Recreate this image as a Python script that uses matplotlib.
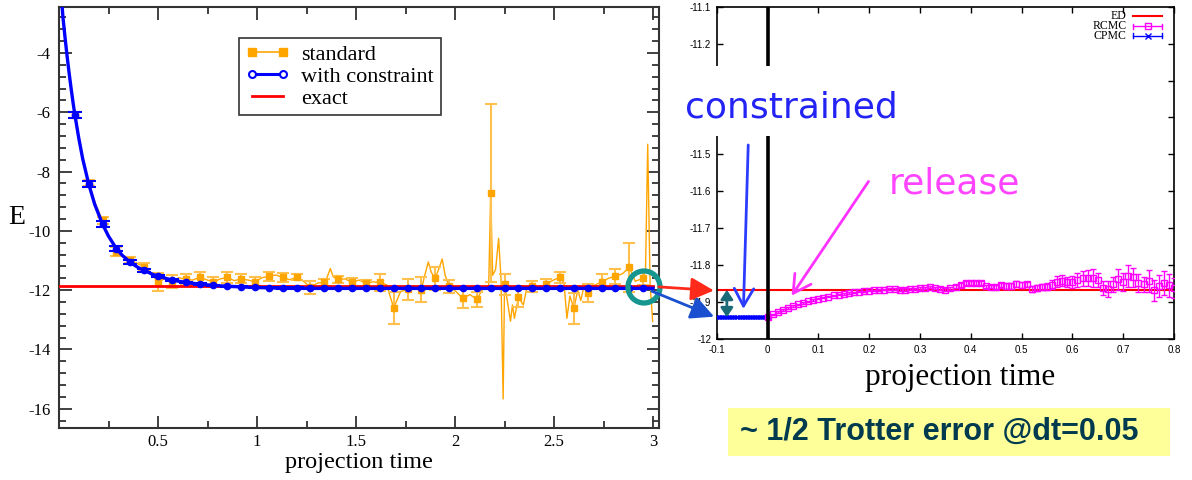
import numpy as np
import matplotlib.pyplot as plt
from matplotlib.patches import Rectangle, Ellipse, FancyArrowPatch
from matplotlib.lines import Line2D

plt.rcParams['font.family'] = 'Liberation Serif'
plt.rcParams['axes.unicode_minus'] = False

W, H = 1192, 480


def fx(px):
    return px / W


def fy(py):
    return 1 - py / H


# ---------------- left panel data ----------------
# marker times (every 0.07 in projection time)
std_t = np.round(np.linspace(0.08, 2.95, 42), 3)
std_e = [-6.10, -8.40, -9.65, -10.70, -10.98, -11.21, -11.72, -11.72, -11.64, -11.57,
         -11.72, -11.57, -11.62, -11.72, -11.53, -11.57, -11.57, -11.91, -11.74, -11.64,
         -11.74, -11.77, -11.74, -12.60, -11.97, -11.99, -11.60, -11.87, -12.28, -12.31,
         -8.73, -11.80, -12.24, -11.87, -11.79, -11.57, -12.61, -12.09, -11.72, -11.53,
         -11.23, -11.60]
std_err = [0.10, 0.10, 0.12, 0.15, 0.10, 0.12, 0.30, 0.22, 0.18, 0.18,
           0.15, 0.18, 0.15, 0.15, 0.15, 0.15, 0.10, 0.22, 0.12, 0.12,
           0.15, 0.12, 0.30, 0.55, 0.35, 0.42, 0.38, 0.22, 0.32, 0.25,
           3.00, 0.35, 0.32, 0.18, 0.16, 0.18, 0.52, 0.30, 0.25, 0.25,
           0.82, 0.22]

# dense "standard" trace
std_line_t = [0.08, 0.115, 0.15, 0.185, 0.22, 0.255, 0.29, 0.325, 0.36, 0.395,
              0.43, 0.465, 0.50, 0.535, 0.57, 0.605, 0.64, 0.675, 0.71, 0.745,
              0.78, 0.815, 0.85, 0.885, 0.92, 0.955, 0.99, 1.025, 1.06, 1.095,
              1.13, 1.165, 1.20, 1.235, 1.27, 1.305, 1.34, 1.355, 1.37, 1.385,
              1.41, 1.445, 1.48, 1.515, 1.55, 1.585, 1.62, 1.655, 1.69, 1.725,
              1.76, 1.795, 1.83, 1.845, 1.865, 1.88, 1.90, 1.92, 1.935, 1.95,
              1.97, 2.005, 2.04, 2.075, 2.11, 2.145, 2.17, 2.18, 2.19, 2.205,
              2.22, 2.232, 2.243, 2.25, 2.265, 2.28, 2.29, 2.30, 2.32, 2.345,
              2.36, 2.39, 2.425, 2.46, 2.50, 2.53, 2.55, 2.565, 2.58, 2.60,
              2.62, 2.635, 2.65, 2.67, 2.70, 2.74, 2.775, 2.81, 2.845, 2.88,
              2.91, 2.95, 2.962, 2.973, 2.985, 2.998]
std_line_e = [-6.10, -7.45, -8.40, -9.10, -9.65, -10.25, -10.70, -10.85, -10.98, -11.10,
              -11.21, -11.45, -11.72, -11.62, -11.72, -11.58, -11.64, -11.66, -11.57, -11.65,
              -11.72, -11.62, -11.57, -11.68, -11.62, -11.66, -11.72, -11.58, -11.53, -11.49,
              -11.57, -11.65, -11.57, -11.70, -11.91, -11.76, -11.74, -11.55, -11.27, -11.55,
              -11.64, -11.62, -11.74, -11.66, -11.77, -11.72, -11.74, -11.82, -12.60, -12.05,
              -11.97, -11.85, -11.99, -11.55, -11.05, -11.40, -11.60, -11.25, -10.95, -11.50,
              -11.87, -12.05, -12.28, -12.15, -12.31, -11.90, -11.85, -8.73, -11.50, -11.30,
              -10.25, -11.60, -15.67, -11.80, -12.40, -13.05, -12.50, -12.95, -12.24, -12.50,
              -12.00, -11.87, -11.95, -11.79, -11.65, -11.57, -11.75, -12.95, -12.20, -12.61,
              -12.00, -12.35, -11.90, -12.09, -11.85, -11.72, -11.60, -11.53, -11.45, -11.23,
              -11.70, -11.60, -11.30, -7.08, -11.80, -13.05]

con_e = [-6.08, -8.42, -9.78, -10.60, -11.06, -11.33, -11.53, -11.66, -11.74, -11.80,
         -11.84, -11.87, -11.89, -11.91, -11.92, -11.93, -11.93, -11.94, -11.94, -11.94,
         -11.94, -11.94, -11.94, -11.94, -11.94, -11.94, -11.94, -11.94, -11.94, -11.94,
         -11.94, -11.94, -11.94, -11.94, -11.94, -11.94, -11.94, -11.94, -11.94, -11.94,
         -11.94, -11.94]
con_err = [0.10, 0.10, 0.10, 0.08, 0.06, 0.05, 0.04, 0.03, 0.03, 0.03,
           0.02, 0.02, 0.02, 0.02, 0.02, 0.02, 0.02, 0.02, 0.02, 0.02,
           0.02, 0.02, 0.02, 0.02, 0.02, 0.02, 0.02, 0.02, 0.02, 0.02,
           0.02, 0.02, 0.02, 0.02, 0.02, 0.02, 0.02, 0.02, 0.02, 0.02,
           0.02, 0.02]
con_curve_t = [0.012, 0.02, 0.03, 0.04, 0.05, 0.06, 0.07, 0.08, 0.10, 0.12,
               0.15, 0.18, 0.22, 0.25, 0.29, 0.32, 0.36, 0.40, 0.43, 0.47,
               0.50, 0.57, 0.64, 0.71, 0.78, 0.85, 0.92, 0.99, 1.10, 1.30, 3.00]
con_curve_e = [-2.10, -2.80, -3.45, -4.06, -4.62, -5.14, -5.63, -6.08, -6.88, -7.58,
               -8.42, -9.10, -9.78, -10.18, -10.60, -10.83, -11.06, -11.24, -11.33, -11.46,
               -11.53, -11.66, -11.74, -11.80, -11.84, -11.87, -11.89, -11.91, -11.93, -11.94,
               -11.94]
exact_t = [0.0, 3.0]
exact_e = [-11.87, -11.87]

# ---------------- right panel data ----------------
ed_t = [-0.1, 0.8]
ed_e = [-11.867, -11.867]
cpmc_t = np.round(np.linspace(-0.1, 0.0, 21), 3)
cpmc_e = [-11.940, -11.940, -11.940, -11.940, -11.940, -11.940, -11.940,
          -11.940, -11.940, -11.940, -11.940, -11.940, -11.940, -11.940,
          -11.940, -11.940, -11.940, -11.940, -11.940, -11.940, -11.940]
rcmc_t = np.round(np.linspace(0.0, 0.8, 81), 2)
rcmc_e = [-11.940, -11.933, -11.927, -11.921, -11.916, -11.911, -11.906, -11.902, -11.898, -11.894,
          -11.891, -11.888, -11.885, -11.882, -11.880, -11.878, -11.876, -11.874, -11.872, -11.871,
          -11.869, -11.868, -11.867, -11.866, -11.865, -11.865, -11.866, -11.866, -11.865, -11.864,
          -11.863, -11.862, -11.860, -11.861, -11.864, -11.866, -11.862, -11.858, -11.853, -11.848,
          -11.848, -11.849, -11.849, -11.857, -11.859, -11.860, -11.854, -11.857, -11.856, -11.852,
          -11.853, -11.852, -11.865, -11.862, -11.860, -11.858, -11.853, -11.845, -11.842, -11.846,
          -11.845, -11.840, -11.836, -11.835, -11.835, -11.840, -11.862, -11.865, -11.852, -11.838,
          -11.845, -11.830, -11.833, -11.848, -11.852, -11.844, -11.868, -11.857, -11.848, -11.855,
          -11.862]
rcmc_err = [0.002, 0.002, 0.002, 0.002, 0.002, 0.002, 0.002, 0.002, 0.002, 0.002,
            0.002, 0.002, 0.002, 0.002, 0.002, 0.002, 0.002, 0.002, 0.002, 0.002,
            0.002, 0.002, 0.002, 0.002, 0.002, 0.002, 0.003, 0.003, 0.003, 0.003,
            0.003, 0.003, 0.003, 0.003, 0.004, 0.004, 0.004, 0.005, 0.005, 0.005,
            0.005, 0.005, 0.005, 0.004, 0.004, 0.005, 0.006, 0.008, 0.009, 0.008,
            0.008, 0.007, 0.008, 0.009, 0.008, 0.010, 0.012, 0.015, 0.014, 0.013,
            0.016, 0.018, 0.020, 0.022, 0.025, 0.020, 0.018, 0.022, 0.020, 0.028,
            0.025, 0.030, 0.026, 0.024, 0.020, 0.030, 0.028, 0.030, 0.033, 0.030,
            0.028]

ORANGE = '#ffa500'

fig = plt.figure(figsize=(W / 100, H / 100), dpi=100)
fig.patch.set_facecolor('white')

# ---------------- left panel ----------------
ax1 = fig.add_axes([fx(59), fy(428), fx(659) - fx(59), fy(7) - fy(428)])
ax1.plot(std_line_t, std_line_e, color=ORANGE, lw=1.0, zorder=2)
ax1.errorbar(std_t, std_e, yerr=std_err, fmt='s', color=ORANGE, ms=5,
             ecolor='#ffc04d', elinewidth=1.5, capsize=4, capthick=1.5, zorder=3)
ax1.plot(exact_t, exact_e, color='red', lw=2, zorder=4)
ax1.plot(con_curve_t, con_curve_e, color='blue', lw=2.4, zorder=5)
ax1.errorbar(std_t, con_e, yerr=con_err, fmt='o', color='blue', ms=4.5,
             elinewidth=1.5, capsize=5, capthick=1.5, zorder=6)

ax1.set_xlim(0, 3.03)
ax1.set_ylim(-16.65, -2.45)
ax1.set_xticks([0.5, 1, 1.5, 2, 2.5, 3])
ax1.set_xticklabels(['0.5', '1', '1.5', '2', '2.5', '3'])
ax1.set_xticks(np.arange(0.25, 3.01, 0.25), minor=True)
ax1.set_yticks([-16, -14, -12, -10, -8, -6, -4])
ax1.set_yticklabels(['-16', '-14', '-12', '-10', '-8', '-6', '-4'])
ax1.set_yticks(np.arange(-16.4, -2.5, 0.4), minor=True)
ax1.tick_params(which='both', direction='in', top=True, right=True,
                color='#333333', width=1.3, labelsize=12)
ax1.tick_params(axis='y', pad=6)
ax1.tick_params(axis='x', pad=4)
ax1.tick_params(which='major', length=9)
ax1.tick_params(which='minor', length=5)
for s in ax1.spines.values():
    s.set_color('#333333')
    s.set_linewidth(1.5)

h1 = Line2D([], [], color=ORANGE, lw=1.2, marker='s', ms=6)
h2 = Line2D([], [], color='blue', lw=2.2, marker='o', ms=5, mfc='white', mew=1.5)
h3 = Line2D([], [], color='red', lw=2)
leg = ax1.legend([h1, h2, h3], ['standard', 'with constraint', 'exact'],
                 loc='upper left', bbox_to_anchor=((239 - 59) / 600, 1 - (38 - 7) / 421),
                 numpoints=2, fancybox=False, edgecolor='#333333', framealpha=1,
                 prop={'family': 'Liberation Serif', 'size': 16}, handlelength=2.0,
                 borderpad=0.3, labelspacing=0.05, handletextpad=0.5, borderaxespad=0)
leg.get_frame().set_linewidth(1.2)

# ---------------- right panel ----------------
ax2 = fig.add_axes([fx(716.7), fy(339), fx(1174) - fx(716.7), fy(6.7) - fy(339)])
ax2.plot(ed_t, ed_e, color='red', lw=1.5, zorder=2)
ax2.errorbar(cpmc_t, cpmc_e, yerr=0.002, fmt='x', color='blue', ms=3, mew=1,
             lw=1, capsize=1.5, zorder=3)
ax2.errorbar(rcmc_t, rcmc_e, yerr=rcmc_err, fmt='s', color='#ff00ff', ms=4.5,
             mfc='none', mew=1, elinewidth=1, capsize=2, zorder=3)
ax2.axvline(0, color='black', lw=2.6, zorder=4)
ax2.set_xlim(-0.1, 0.8)
ax2.set_ylim(-12, -11.1)
ax2.set_xticks([-0.1, 0, 0.1, 0.2, 0.3, 0.4, 0.5, 0.6, 0.7, 0.8])
ax2.set_xticklabels(['-0.1', '0', '0.1', '0.2', '0.3', '0.4', '0.5', '0.6', '0.7', '0.8'])
ax2.set_yticks([-12, -11.9, -11.8, -11.7, -11.6, -11.5, -11.4, -11.3, -11.2, -11.1])
# -11.4 and -11.3 sit under the white "constrained" label box
ax2.set_yticklabels(['-12', '-11.9', '-11.8', '-11.7', '-11.6', '-11.5', '',
                     '', '-11.2', '-11.1'])
ax2.tick_params(direction='in', top=True, right=True, length=4, width=1,
                labelsize=7, pad=4)
for lab in ax2.get_xticklabels() + ax2.get_yticklabels():
    lab.set_fontfamily('Liberation Sans')
for s in ax2.spines.values():
    s.set_linewidth(1.2)

# hand-drawn arrows inside right panel
ax2.annotate('', xy=(-0.0476, -11.926), xytext=(-0.0378, -11.467),
             arrowprops=dict(arrowstyle='->,head_length=0.9,head_width=0.5',
                             color='#2b3cff', lw=2, mutation_scale=14), zorder=6)
ax2.annotate('', xy=(0.0443, -11.889), xytext=(0.2019, -11.567),
             arrowprops=dict(arrowstyle='->,head_length=0.9,head_width=0.5',
                             color='#ff33ff', lw=2, mutation_scale=14), zorder=6)
ax2.annotate('', xy=(-0.080, -11.867), xytext=(-0.080, -11.941),
             arrowprops=dict(arrowstyle='<|-|>,head_length=0.45,head_width=0.3',
                             color='#1a6a78', lw=2, mutation_scale=12,
                             shrinkA=0, shrinkB=0), zorder=6)


# right legend (drawn by hand, gnuplot style)
def rx(px):
    return (px - 716.7) / 457.3


def ry(py):
    return (339 - py) / 332.3


leg_rows = [('ED', 'red', None, 16), ('RCMC', '#ff00ff', 's', 26.3), ('CPMC', 'blue', 'x', 36)]
for name, col, mk, py in leg_rows:
    ax2.text(rx(1126.7), ry(py), name, transform=ax2.transAxes, ha='right', va='center',
             fontsize=8.5, family='Liberation Serif')
    ax2.plot([rx(1133), rx(1162)], [ry(py), ry(py)], transform=ax2.transAxes,
             color=col, lw=1.5 if mk is None else 1, clip_on=False)
    if mk is not None:
        ax2.plot([rx(1133), rx(1133)], [ry(py - 2.5), ry(py + 2.5)], transform=ax2.transAxes,
                 color=col, lw=1, clip_on=False)
        ax2.plot([rx(1162), rx(1162)], [ry(py - 2.5), ry(py + 2.5)], transform=ax2.transAxes,
                 color=col, lw=1, clip_on=False)
        ax2.plot([rx(1147.5)], [ry(py)], transform=ax2.transAxes, marker=mk, ms=4,
                 mfc='none', mec=col, mew=1, clip_on=False)

# ---------------- overlay annotations ----------------
fig.add_artist(Rectangle((fx(668), fy(135.5)), (915 - 668) / W, (135.5 - 66) / H,
                         transform=fig.transFigure, facecolor='white', edgecolor='none', zorder=3))
fig.text(fx(791), fy(117), 'constrained', fontsize=26, color='#2323f5', ha='center',
         va='baseline', family='DejaVu Sans', zorder=4)
fig.text(fx(954), fy(193), 'release', fontsize=26, color='#ff44ff', ha='center',
         va='baseline', family='DejaVu Sans', zorder=4)

fig.add_artist(Ellipse((fx(644), fy(287)), 32 / W, 32 / H, transform=fig.transFigure,
                       fill=False, edgecolor='#17968f', lw=3.8, zorder=5))
fig.add_artist(FancyArrowPatch((fx(656), fy(286.7)), (fx(716.7), fy(290.7)),
                               transform=fig.transFigure, color='#ff2a1a', lw=2,
                               arrowstyle='-|>,head_length=0.7,head_width=0.35',
                               mutation_scale=20, zorder=5))
fig.add_artist(FancyArrowPatch((fx(649), fy(290)), (fx(716.7), fy(317.7)),
                               transform=fig.transFigure, color='#1a50d0', lw=2,
                               arrowstyle='-|>,head_length=0.7,head_width=0.35',
                               mutation_scale=20, zorder=5))

fig.text(fx(17), fy(218), 'E', fontsize=20, ha='center', va='center')
fig.text(fx(359), fy(468), 'projection time', fontsize=17.5, ha='center', va='baseline')
fig.text(fx(960), fy(385), 'projection time', fontsize=22.5, ha='center', va='baseline')

fig.add_artist(Rectangle((fx(727.7), fy(455.7)), (1170 - 727.7) / W, (455.7 - 408.3) / H,
                         transform=fig.transFigure, facecolor='#ffff99', edgecolor='none'))
fig.text(fx(740), fy(432), '~ 1/2 Trotter error @dt=0.05', fontsize=22, fontweight='bold',
         family='Liberation Sans', color='#003a4f', ha='left', va='center')

fig.savefig('out.png', dpi=100)
